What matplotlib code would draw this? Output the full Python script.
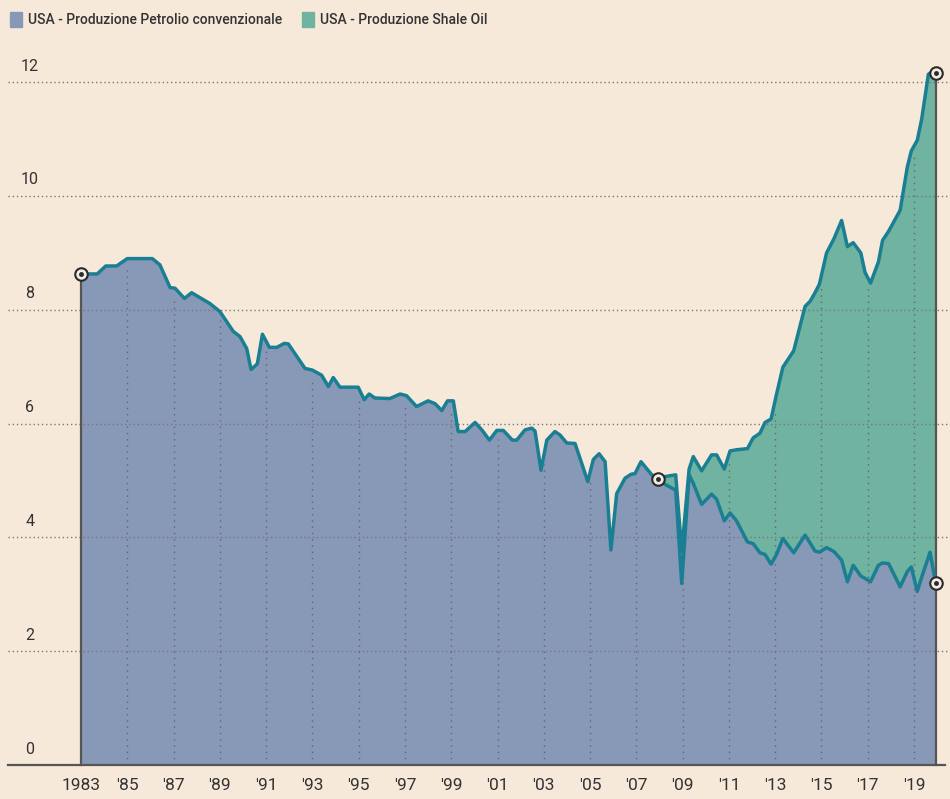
import numpy as np
import matplotlib
matplotlib.use("Agg")
import matplotlib.pyplot as plt
from matplotlib.patches import Rectangle

# Produzione petrolio USA (milioni di barili/giorno)
anni_conv = [1983.0, 1983.7, 1984.07, 1984.54, 1985.0, 1986.08, 1986.41, 1986.85, 1987.06,
             1987.47, 1987.78, 1988.57, 1989.0, 1989.58, 1989.87, 1990.16, 1990.35, 1990.62,
             1990.84, 1991.14, 1991.46, 1991.79, 1991.96, 1992.68, 1993.0, 1993.4, 1993.69,
             1993.9, 1994.19, 1994.98, 1995.24, 1995.45, 1995.7, 1996.35, 1996.79, 1997.07,
             1997.5, 1998.0, 1998.3, 1998.59, 1998.84, 1999.09, 1999.3, 1999.6, 2000.03,
             2000.32, 2000.65, 2000.97, 2001.25, 2001.64, 2001.83, 2002.19, 2002.48, 2002.62,
             2002.88, 2003.13, 2003.48, 2003.7, 2003.99, 2004.35, 2004.64, 2004.9, 2005.14,
             2005.39, 2005.65, 2005.9, 2006.15, 2006.51, 2006.77, 2006.94, 2007.2, 2007.73]
conv = [8.63, 8.63, 8.77, 8.77, 8.90, 8.90, 8.79, 8.39, 8.38,
        8.20, 8.30, 8.11, 7.97, 7.62, 7.53, 7.32, 6.95, 7.05,
        7.57, 7.34, 7.34, 7.41, 7.40, 6.97, 6.94, 6.85, 6.65,
        6.81, 6.64, 6.64, 6.42, 6.52, 6.45, 6.44, 6.52, 6.49,
        6.30, 6.40, 6.35, 6.23, 6.40, 6.40, 5.86, 5.86, 6.02,
        5.89, 5.71, 5.88, 5.88, 5.71, 5.71, 5.89, 5.92, 5.87,
        5.18, 5.71, 5.86, 5.80, 5.66, 5.65, 5.30, 4.98, 5.37,
        5.47, 5.33, 3.78, 4.77, 5.04, 5.11, 5.12, 5.33, 5.07]

# dal 2008: convenzionale e totale (convenzionale + shale)
anni_shale = [2007.95, 2008.25, 2008.7, 2008.96, 2009.28, 2009.46, 2009.82, 2010.25, 2010.47,
              2010.8, 2011.05, 2011.33, 2011.8, 2012.05, 2012.34, 2012.56, 2012.82, 2013.06,
              2013.33, 2013.8, 2014.29, 2014.51, 2014.72, 2014.91, 2015.22, 2015.54, 2015.87,
              2016.12, 2016.37, 2016.7, 2016.88, 2017.12, 2017.46, 2017.64, 2017.9, 2018.4,
              2018.71, 2018.88, 2019.14, 2019.33, 2019.62, 2019.69, 2019.93]
conv_shale = [5.02, 4.93, 4.83, 3.19, 5.10, 4.95, 4.58, 4.76, 4.67,
              4.29, 4.43, 4.29, 3.92, 3.89, 3.73, 3.70, 3.53, 3.70,
              3.98, 3.73, 4.04, 3.90, 3.76, 3.74, 3.82, 3.75, 3.60,
              3.22, 3.51, 3.32, 3.28, 3.22, 3.51, 3.55, 3.54, 3.13,
              3.40, 3.48, 3.05, 3.30, 3.65, 3.74, 3.20]
totale = [5.02, 5.07, 5.10, 3.75, 5.20, 5.42, 5.17, 5.45, 5.45,
          5.20, 5.52, 5.54, 5.56, 5.75, 5.83, 6.02, 6.08, 6.52,
          6.99, 7.28, 8.06, 8.15, 8.30, 8.45, 9.00, 9.25, 9.57,
          9.11, 9.18, 9.00, 8.66, 8.47, 8.84, 9.22, 9.38, 9.75,
          10.51, 10.79, 10.98, 11.35, 12.14, 12.16, 12.17]

y_ticks = [0, 2, 4, 6, 8, 10, 12]
x_ticks = list(range(1983, 2020, 2))
x_labels = ["1983"] + ["'" + str(a)[2:] for a in x_ticks[1:]]

legenda = ["USA - Produzione Petrolio convenzionale", "USA - Produzione Shale Oil"]

# colori
bg = "#f7e9da"
col_conv = "#8799b7"
col_shale = "#6fb3a0"
col_linea = "#1b7f93"
col_asse = "#555555"
col_testo = "#333333"

W, H = 950, 799
fig = plt.figure(figsize=(W / 100, H / 100), dpi=100, facecolor=bg)
ax = fig.add_axes([0, 0, 1, 1])
ax.set_facecolor(bg)

# scala: 23.14 px per anno, 56.9 px per unità
px_anno = 23.14
px_unita = 56.9
x0_px, y0_px = 81, 765
ax.set_xlim(1983 - x0_px / px_anno, 1983 + (W - x0_px) / px_anno)
ax.set_ylim(-(H - y0_px) / px_unita, y0_px / px_unita)
ax.axis("off")

x_all = np.array(anni_conv + anni_shale)
c_all = np.array(conv + conv_shale)
xs = np.array(anni_shale)
ts = np.array(totale)
cs = np.array(conv_shale)

ax.fill_between(x_all, 0, c_all, color=col_conv, lw=0, zorder=1)
ax.fill_between(xs, cs, ts, color=col_shale, lw=0, zorder=1)

# griglia
x_left = ax.get_xlim()[0] + 8 / px_anno
x_right = ax.get_xlim()[1]
for v in y_ticks[1:]:
    ax.plot([x_left, x_right], [v, v], color="#777777", lw=1.0,
            linestyle=(0, (1, 2)), zorder=2)
top_x = np.concatenate([x_all[x_all < xs[0]], xs])
top_y = np.concatenate([c_all[x_all < xs[0]], ts])
for a in x_ticks[1:]:
    ax.plot([a, a], [0, np.interp(a, top_x, top_y) - 0.15], color="#666666", lw=1.0,
            linestyle=(0, (1, 3.5)), zorder=2)

# linee
ax.plot(x_all, c_all, color=col_linea, lw=2.5, zorder=4, solid_joinstyle="round")
ax.plot(xs, ts, color=col_linea, lw=2.5, zorder=4, solid_joinstyle="round")

# assi
ax.plot([x_left, 1983 + (945 - x0_px) / px_anno], [0, 0], color=col_asse, lw=1.6, zorder=5)
ax.plot([anni_conv[0], anni_conv[0]], [0, conv[0]], color=col_asse, lw=1.6, zorder=3)
ax.plot([xs[-1], xs[-1]], [0, ts[-1]], color=col_asse, lw=1.6, zorder=3)

# punti evidenziati
punti = [(anni_conv[0], conv[0]), (xs[0], ts[0]), (xs[-1], ts[-1]), (xs[-1], cs[-1])]
for px, py in punti:
    ax.plot(px, py, "o", ms=9, mfc="#f3ece3", mec="#2a2a2a", mew=1.5, zorder=6)
    ax.plot(px, py, "o", ms=2.5, color="#2a2a2a", zorder=7)

font_tick = ["Roboto", "DejaVu Sans"]

# etichette asse y
for v in y_ticks:
    ax.text(1983 - 51 / px_anno, v + 16 / px_unita, str(v), ha="center", va="center",
            fontsize=11.5, color=col_testo, family=font_tick)

# etichette asse x
for a, lab in zip(x_ticks, x_labels):
    ax.text(a, -(785 - y0_px) / px_unita, lab, ha="center", va="center",
            fontsize=12.5, color=col_testo, family=font_tick)

# legenda
for i, (testo, col) in enumerate(zip(legenda, [col_conv, col_shale])):
    x_patch = [10, 302][i]
    fig.patches.append(Rectangle((x_patch / W, 1 - 27 / H), 12 / W, 15 / H,
                                 transform=fig.transFigure, color=col, figure=fig))
    fig.text((x_patch + 18) / W, 1 - 20 / H, testo, ha="left", va="center",
             fontsize=10, fontweight="medium", color=col_testo, family=font_tick)

fig.savefig("out.png", dpi=100, facecolor=bg)
